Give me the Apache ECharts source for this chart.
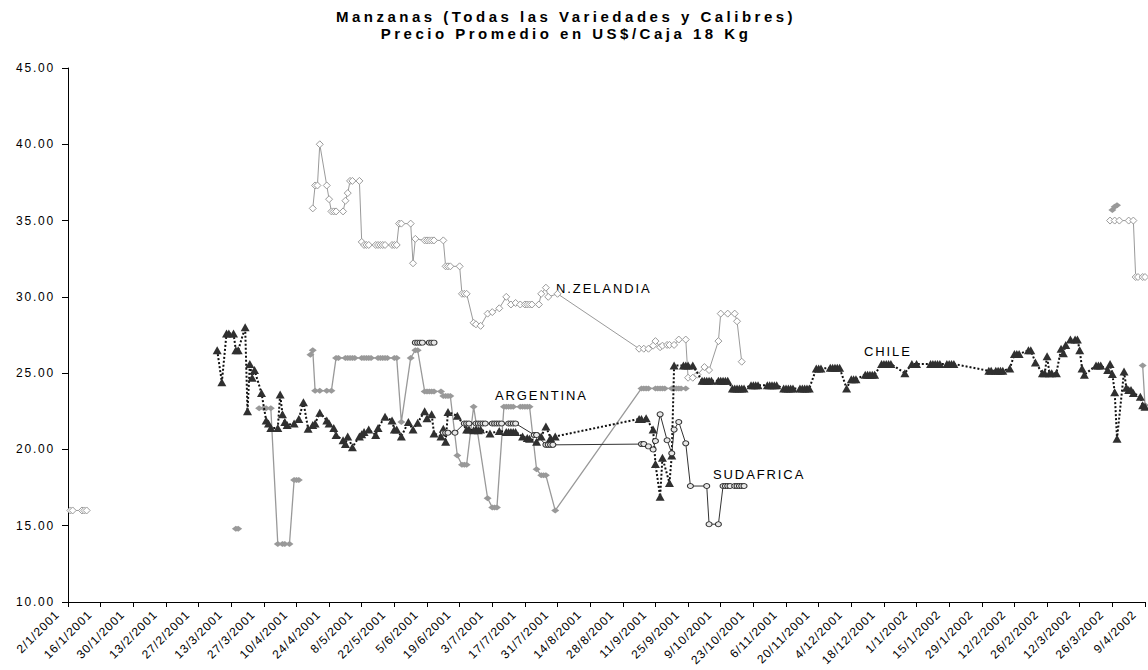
<!DOCTYPE html>
<html>
<head>
<meta charset="utf-8">
<script src="https://cdn.jsdelivr.net/npm/echarts@6/dist/echarts.min.js"></script>
<style>
  html, body { margin: 0; padding: 0; background: #fff; }
  #chart { width: 1148px; height: 670px; }
</style>
</head>
<body>
<div id="chart"></div>
<script>
// Chart text
const titleLines = ['Manzanas (Todas las Variedades y Calibres)', 'Precio Promedio en US$/Caja 18 Kg'];
const seriesNames = ['N.ZELANDIA', 'ARGENTINA', 'CHILE', 'SUDAFRICA'];

// Date axis: first day, last day and spacing of the tick labels (days)
const axisStart = '2001-01-02';
const axisEnd = '2002-04-09';
const tickDays = 14;

// Price axis (US$/caja)
const priceMin = 10;
const priceMax = 45;
const priceStep = 5;

// Average prices per day; null marks a break between seasons
const nzelandia = [
  ['2001-01-03',16.0],['2001-01-04',16.0],['2001-01-08',16.0],['2001-01-09',16.0],['2001-01-10',16.0],
  null,
  ['2001-04-17',35.8],['2001-04-18',37.3],['2001-04-19',37.3],['2001-04-20',40.0],['2001-04-23',37.3],['2001-04-24',36.4],
  ['2001-04-25',35.6],['2001-04-26',35.6],['2001-04-27',35.6],['2001-04-30',35.6],
  ['2001-05-01',36.3],['2001-05-02',36.8],['2001-05-03',37.6],['2001-05-04',37.6],['2001-05-07',37.6],['2001-05-08',33.6],
  ['2001-05-09',33.4],['2001-05-10',33.4],['2001-05-11',33.4],['2001-05-14',33.4],['2001-05-15',33.4],['2001-05-16',33.4],
  ['2001-05-17',33.4],['2001-05-18',33.4],['2001-05-21',33.4],['2001-05-22',33.4],['2001-05-23',33.4],['2001-05-24',34.8],
  ['2001-05-25',34.8],['2001-05-29',34.8],['2001-05-30',32.2],['2001-05-31',33.8],
  ['2001-06-04',33.7],['2001-06-05',33.7],['2001-06-06',33.7],['2001-06-07',33.7],['2001-06-08',33.7],['2001-06-12',33.7],
  ['2001-06-13',32.0],['2001-06-14',32.0],['2001-06-15',32.0],['2001-06-19',32.0],['2001-06-20',30.2],['2001-06-21',30.2],
  ['2001-06-22',30.2],['2001-06-25',28.3],['2001-06-26',28.2],['2001-06-28',28.1],
  ['2001-07-01',28.9],['2001-07-03',29.0],['2001-07-06',29.25],['2001-07-09',30.0],['2001-07-11',29.5],['2001-07-13',29.6],
  ['2001-07-15',29.5],['2001-07-17',29.5],['2001-07-18',29.5],['2001-07-19',29.5],['2001-07-20',29.5],['2001-07-23',29.5],
  ['2001-07-24',30.2],['2001-07-26',30.6],['2001-07-27',30.0],['2001-07-31',30.2],
  ['2001-09-04',26.6],['2001-09-06',26.6],['2001-09-08',26.6],['2001-09-10',26.8],['2001-09-11',27.1],['2001-09-13',26.7],
  ['2001-09-14',26.8],['2001-09-16',26.85],['2001-09-17',26.85],['2001-09-19',26.85],['2001-09-21',27.2],['2001-09-24',27.2],
  ['2001-09-25',24.7],['2001-09-27',24.7],['2001-09-29',24.9],
  ['2001-10-02',25.4],['2001-10-04',25.2],['2001-10-08',27.1],['2001-10-09',28.9],['2001-10-12',28.9],['2001-10-15',28.9],
  ['2001-10-16',28.4],['2001-10-18',25.75],
  null,
  ['2002-03-25',35.0],['2002-03-27',35.0],['2002-03-29',35.0],['2002-04-02',35.0],['2002-04-04',35.0],
  ['2002-04-05',31.3],['2002-04-06',31.3],['2002-04-08',31.3],['2002-04-09',31.3]
];

const argentina = [
  ['2001-03-15',14.8],['2001-03-16',14.8],
  null,
  ['2001-03-25',22.7],['2001-03-27',22.7],['2001-03-28',22.7],['2001-03-30',22.7],
  ['2001-04-02',13.8],['2001-04-04',13.8],['2001-04-05',13.8],['2001-04-07',13.8],
  ['2001-04-09',18.0],['2001-04-10',18.0],['2001-04-11',18.0],
  null,
  ['2001-04-16',26.2],['2001-04-17',26.5],['2001-04-18',23.85],['2001-04-20',23.85],['2001-04-23',23.85],['2001-04-25',23.85],
  ['2001-04-27',26.0],['2001-04-28',26.0],['2001-05-01',26.0],['2001-05-02',26.0],['2001-05-03',26.0],['2001-05-04',26.0],
  ['2001-05-05',26.0],['2001-05-08',26.0],['2001-05-09',26.0],['2001-05-10',26.0],['2001-05-11',26.0],['2001-05-12',26.0],
  ['2001-05-15',26.0],['2001-05-16',26.0],['2001-05-17',26.0],['2001-05-18',26.0],['2001-05-19',26.0],['2001-05-22',26.0],
  ['2001-05-23',26.0],['2001-05-25',21.8],['2001-05-29',26.0],['2001-05-31',26.5],['2001-06-01',26.5],
  ['2001-06-04',23.8],['2001-06-05',23.8],['2001-06-06',23.8],['2001-06-07',23.8],['2001-06-08',23.8],['2001-06-11',23.8],
  ['2001-06-12',23.5],['2001-06-13',23.5],['2001-06-14',23.5],['2001-06-15',23.5],['2001-06-18',19.6],
  ['2001-06-20',19.0],['2001-06-21',19.0],['2001-06-22',19.0],['2001-06-25',22.8],
  ['2001-07-01',16.8],['2001-07-03',16.2],['2001-07-04',16.2],['2001-07-05',16.2],
  ['2001-07-08',22.8],['2001-07-09',22.8],['2001-07-10',22.8],['2001-07-11',22.8],['2001-07-12',22.8],['2001-07-15',22.8],
  ['2001-07-16',22.8],['2001-07-17',22.8],['2001-07-18',22.8],['2001-07-19',22.8],
  ['2001-07-22',18.7],['2001-07-24',18.3],['2001-07-25',18.3],['2001-07-26',18.3],['2001-07-30',16.0],
  ['2001-09-05',24.0],['2001-09-06',24.0],['2001-09-07',24.0],['2001-09-08',24.0],['2001-09-11',24.0],['2001-09-12',24.0],
  ['2001-09-13',24.0],['2001-09-14',24.0],['2001-09-15',24.0],['2001-09-18',24.0],['2001-09-19',24.0],['2001-09-20',24.0],
  ['2001-09-21',24.0],['2001-09-22',24.0],['2001-09-24',24.0],
  null,
  ['2002-03-26',35.7],['2002-03-27',35.9],['2002-03-28',36.0],
  null,
  ['2002-04-08',25.5],['2002-04-09',22.9]
];

const chile = [
  ['2001-03-07',26.5],['2001-03-09',24.4],['2001-03-11',27.6],['2001-03-12',27.6],['2001-03-14',27.6],['2001-03-15',26.5],
  ['2001-03-16',26.5],['2001-03-19',28.0],['2001-03-20',22.5],['2001-03-21',25.6],['2001-03-22',24.7],['2001-03-23',25.2],
  ['2001-03-26',23.7],['2001-03-28',21.9],['2001-03-29',21.7],['2001-03-30',21.4],
  ['2001-04-02',21.4],['2001-04-03',23.6],['2001-04-04',22.3],['2001-04-05',21.8],['2001-04-06',21.6],['2001-04-09',21.7],
  ['2001-04-11',22.0],['2001-04-13',23.1],['2001-04-15',21.35],['2001-04-17',21.6],['2001-04-18',21.7],['2001-04-20',22.4],
  ['2001-04-23',21.9],['2001-04-24',21.7],['2001-04-26',21.4],['2001-04-27',20.95],['2001-04-30',20.6],
  ['2001-05-01',20.35],['2001-05-02',20.85],['2001-05-04',20.15],['2001-05-07',20.85],['2001-05-08',21.0],['2001-05-09',21.15],
  ['2001-05-11',21.3],['2001-05-14',20.95],['2001-05-15',21.4],['2001-05-18',22.15],['2001-05-21',21.9],['2001-05-22',21.3],
  ['2001-05-23',21.3],['2001-05-25',20.85],['2001-05-28',21.8],['2001-05-30',21.3],
  ['2001-06-01',21.75],['2001-06-04',22.5],['2001-06-05',22.05],['2001-06-07',22.3],['2001-06-08',21.05],['2001-06-11',20.85],
  ['2001-06-12',21.35],['2001-06-13',20.5],['2001-06-14',22.45],['2001-06-18',22.2],['2001-06-22',21.3],['2001-06-23',21.3],
  ['2001-06-25',21.25],['2001-06-26',21.3],['2001-06-27',21.25],['2001-06-28',21.3],
  ['2001-07-02',21.05],['2001-07-06',21.2],['2001-07-09',21.15],['2001-07-10',21.15],['2001-07-11',21.15],['2001-07-12',21.15],
  ['2001-07-13',21.15],['2001-07-16',20.85],['2001-07-18',20.75],['2001-07-19',20.7],['2001-07-22',20.5],['2001-07-24',20.85],
  ['2001-07-26',21.5],['2001-07-28',20.75],['2001-07-30',20.85],
  ['2001-09-04',22.0],['2001-09-05',22.0],['2001-09-07',22.05],['2001-09-10',21.3],['2001-09-11',19.05],['2001-09-13',16.9],
  ['2001-09-14',19.45],['2001-09-17',17.8],['2001-09-18',19.6],['2001-09-19',25.5],['2001-09-23',25.5],['2001-09-24',25.5],
  ['2001-09-25',25.5],['2001-09-27',25.5],
  ['2001-10-01',24.5],['2001-10-02',24.5],['2001-10-03',24.5],['2001-10-04',24.5],['2001-10-05',24.5],['2001-10-08',24.5],
  ['2001-10-09',24.5],['2001-10-10',24.5],['2001-10-11',24.5],['2001-10-12',24.5],
  ['2001-10-14',24.0],['2001-10-15',24.0],['2001-10-16',24.0],['2001-10-17',24.0],['2001-10-18',24.0],['2001-10-19',24.0],
  ['2001-10-22',24.2],['2001-10-23',24.2],['2001-10-24',24.2],['2001-10-25',24.2],['2001-10-29',24.2],['2001-10-30',24.2],
  ['2001-10-31',24.2],['2001-11-01',24.2],['2001-11-02',24.2],
  ['2001-11-05',24.0],['2001-11-06',24.0],['2001-11-07',24.0],['2001-11-08',24.0],['2001-11-09',24.0],
  ['2001-11-12',24.0],['2001-11-13',24.0],['2001-11-14',24.0],['2001-11-15',24.0],['2001-11-16',24.0],
  ['2001-11-19',25.3],['2001-11-20',25.3],['2001-11-21',25.3],
  ['2001-11-25',25.35],['2001-11-26',25.35],['2001-11-27',25.35],['2001-11-28',25.35],['2001-11-29',25.35],
  ['2001-12-02',24.0],['2001-12-04',24.6],['2001-12-05',24.6],['2001-12-06',24.6],
  ['2001-12-10',24.9],['2001-12-11',24.9],['2001-12-12',24.9],['2001-12-13',24.9],['2001-12-14',24.9],
  ['2001-12-17',25.6],['2001-12-18',25.6],['2001-12-19',25.6],['2001-12-20',25.6],['2001-12-21',25.6],
  ['2001-12-27',25.0],['2001-12-30',25.6],['2002-01-01',25.6],
  ['2002-01-07',25.6],['2002-01-08',25.6],['2002-01-09',25.6],['2002-01-10',25.6],['2002-01-11',25.6],
  ['2002-01-14',25.6],['2002-01-15',25.6],['2002-01-16',25.6],['2002-01-17',25.6],
  ['2002-02-01',25.15],['2002-02-02',25.15],['2002-02-04',25.15],['2002-02-05',25.15],['2002-02-06',25.15],['2002-02-07',25.15],
  ['2002-02-10',25.3],['2002-02-12',26.25],['2002-02-13',26.25],['2002-02-14',26.25],['2002-02-18',26.5],['2002-02-19',26.5],
  ['2002-02-21',25.7],['2002-02-24',25.0],['2002-02-25',25.0],['2002-02-26',26.1],['2002-02-27',25.0],['2002-02-28',25.0],
  ['2002-03-02',25.0],['2002-03-04',26.6],['2002-03-05',26.3],['2002-03-06',26.85],['2002-03-08',27.2],['2002-03-10',27.2],
  ['2002-03-11',27.2],['2002-03-12',26.5],['2002-03-13',25.3],['2002-03-14',24.9],['2002-03-19',25.5],['2002-03-20',25.5],
  ['2002-03-21',25.5],['2002-03-24',25.2],['2002-03-25',25.6],['2002-03-26',24.95],['2002-03-27',23.75],['2002-03-28',20.7],
  ['2002-03-31',25.1],['2002-04-01',24.05],['2002-04-02',23.9],['2002-04-03',23.9],['2002-04-04',23.7],['2002-04-07',23.45],
  ['2002-04-08',22.9],['2002-04-09',22.8]
];

const sudafrica = [
  ['2001-05-31',27.0],['2001-06-01',27.0],['2001-06-02',27.0],['2001-06-03',27.0],['2001-06-06',27.0],['2001-06-07',27.0],
  ['2001-06-08',27.0],
  null,
  ['2001-06-12',21.1],['2001-06-13',21.1],['2001-06-14',21.1],['2001-06-17',21.1],
  ['2001-06-21',21.7],['2001-06-22',21.7],['2001-06-23',21.7],['2001-06-26',21.7],['2001-06-27',21.7],['2001-06-28',21.7],
  ['2001-06-29',21.7],['2001-06-30',21.7],['2001-07-03',21.7],['2001-07-04',21.7],['2001-07-05',21.7],['2001-07-06',21.7],
  ['2001-07-07',21.7],['2001-07-10',21.7],['2001-07-11',21.7],['2001-07-12',21.7],['2001-07-13',21.7],
  ['2001-07-21',20.95],['2001-07-22',20.95],['2001-07-26',20.3],['2001-07-27',20.3],['2001-07-28',20.3],['2001-07-29',20.3],
  ['2001-09-05',20.35],['2001-09-06',20.35],['2001-09-08',20.2],['2001-09-10',20.0],['2001-09-11',20.55],['2001-09-13',22.3],
  ['2001-09-16',20.6],['2001-09-18',19.75],['2001-09-19',21.3],['2001-09-21',21.8],['2001-09-24',20.4],['2001-09-26',17.6],
  ['2001-10-03',17.6],['2001-10-04',15.1],['2001-10-08',15.1],['2001-10-10',17.6],['2001-10-11',17.6],['2001-10-12',17.6],
  ['2001-10-13',17.6],['2001-10-15',17.6],['2001-10-16',17.6],['2001-10-17',17.6],['2001-10-18',17.6],['2001-10-19',17.6]
];

// Helpers: ISO date -> days since axis start, and back to d/m/yyyy label
const DAY_MS = 86400000;
function utc(iso) {
  const [y, m, d] = iso.split('-').map(Number);
  return Date.UTC(y, m - 1, d);
}
const originMs = utc(axisStart);
const axisDays = Math.round((utc(axisEnd) - originMs) / DAY_MS);
function toDay(iso) { return Math.round((utc(iso) - originMs) / DAY_MS); }
function dayLabel(n) {
  const dt = new Date(originMs + Math.round(n) * DAY_MS);
  return dt.getUTCDate() + '/' + (dt.getUTCMonth() + 1) + '/' + dt.getUTCFullYear();
}
function toPoints(list) {
  return list.map(p => p ? [toDay(p[0]), p[1]] : ['-', '-']);
}

const FONT = '"Liberation Sans", Arial, sans-serif';

const chart = echarts.init(document.getElementById('chart'), null, { renderer: 'svg' });

function textItem(x, y, text, font, align) {
  return {
    type: 'text', x: x, y: y,
    style: { text: text, font: font, fill: '#000',
      textAlign: align, textVerticalAlign: 'middle', align: align, verticalAlign: 'middle' }
  };
}

const option = {
  animation: false,
  backgroundColor: '#ffffff',
  grid: { left: 68, right: 3, top: 68, bottom: 68, containLabel: false },
  xAxis: {
    type: 'value',
    min: 0,
    max: axisDays,
    interval: tickDays,
    axisLine: { show: true, onZero: false, lineStyle: { color: '#000', width: 1 } },
    axisTick: { show: true, length: 5, lineStyle: { color: '#000' } },
    splitLine: { show: false },
    axisLabel: {
      rotate: 45,
      margin: 0,
      padding: [0, 15, 0, 0],
      fontSize: 12,
      fontFamily: FONT,
      color: '#000',
      showMinLabel: true,
      showMaxLabel: true,
      hideOverlap: false,
      formatter: v => dayLabel(v)
    }
  },
  yAxis: {
    type: 'value',
    min: priceMin,
    max: priceMax,
    interval: priceStep,
    axisLine: { show: true, lineStyle: { color: '#000', width: 1 } },
    axisTick: { show: true, length: 6, lineStyle: { color: '#000' } },
    splitLine: { show: false },
    axisLabel: {
      margin: 13,
      padding: [5, 0, 0, 0],
      fontSize: 12,
      fontFamily: FONT,
      color: '#000',
      formatter: v => v.toFixed(2)
    }
  },
  series: [
    {
      name: seriesNames[0],
      type: 'line',
      data: toPoints(nzelandia),
      connectNulls: false,
      symbol: 'diamond',
      symbolSize: [7, 7],
      itemStyle: { color: '#ffffff', borderColor: '#9a9a9a', borderWidth: 1 },
      lineStyle: { color: '#9a9a9a', width: 1 },
      z: 2
    },
    {
      name: seriesNames[1],
      type: 'line',
      data: toPoints(argentina),
      connectNulls: false,
      symbol: 'diamond',
      symbolSize: [8, 6],
      itemStyle: { color: '#999999', borderColor: '#999999', borderWidth: 0 },
      lineStyle: { color: '#999999', width: 1.3 },
      z: 3
    },
    {
      name: seriesNames[2],
      type: 'line',
      data: toPoints(chile),
      connectNulls: false,
      symbol: 'triangle',
      symbolSize: [9, 8],
      itemStyle: { color: '#303030', borderWidth: 0 },
      lineStyle: { color: '#111111', width: 2, type: [2, 2] },
      z: 4
    },
    {
      name: seriesNames[3],
      type: 'line',
      data: toPoints(sudafrica),
      connectNulls: false,
      symbol: 'circle',
      symbolSize: [6, 5],
      itemStyle: { color: '#e8e8e8', borderColor: '#333333', borderWidth: 1 },
      lineStyle: { color: '#333333', width: 1 },
      z: 5
    }
  ],
  graphic: [
    textItem(566, 16.5, titleLines[0], 'bold 15px ' + FONT, 'center'),
    textItem(566, 33.5, titleLines[1], 'bold 15px ' + FONT, 'center'),
    textItem(556, 288, seriesNames[0], '13px ' + FONT, 'left'),
    textItem(495, 395, seriesNames[1], '13px ' + FONT, 'left'),
    textItem(864, 351.5, seriesNames[2], '13px ' + FONT, 'left'),
    textItem(713, 474, seriesNames[3], '13px ' + FONT, 'left')
  ]
};

chart.setOption(option);

// Wide tracking used by the chart's typography
function applyTracking() {
  document.querySelectorAll('#chart text').forEach(t => {
    const s = t.textContent;
    let sp = null;
    if (titleLines.includes(s)) sp = 3.5;
    else if (seriesNames.includes(s)) sp = 1.9;
    else if (/^\d+\.\d\d$/.test(s)) sp = 1.8;
    else if (/^\d+\/\d+\/\d{4}$/.test(s)) sp = 1;
    if (sp !== null) t.setAttribute('letter-spacing', sp);
  });
}
applyTracking();
chart.on('finished', applyTracking);
</script>
</body>
</html>
